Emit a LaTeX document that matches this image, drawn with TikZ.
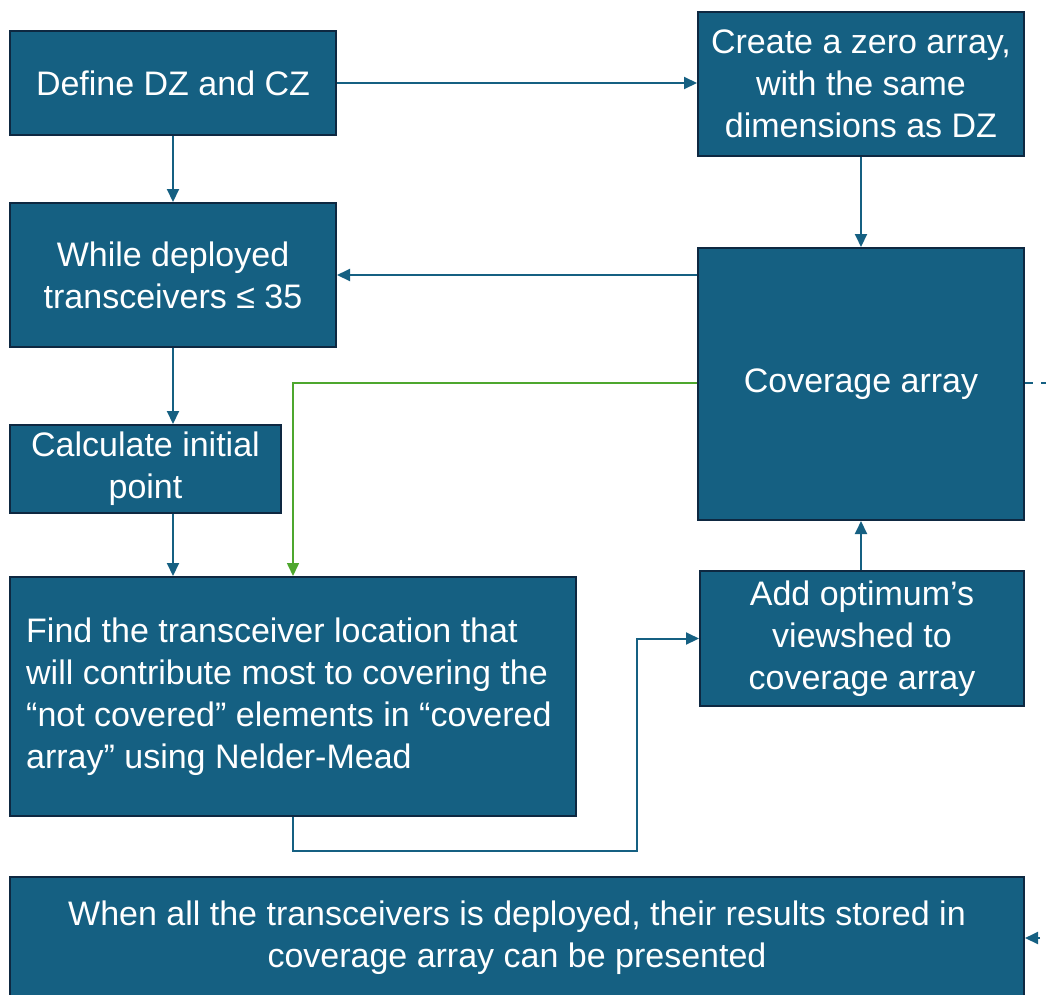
\documentclass[tikz,border=0pt]{standalone}
\usepackage{fontspec}
\setmainfont{Liberation Sans}
\usetikzlibrary{arrows.meta,positioning,calc}
\definecolor{boxfill}{HTML}{156082}
\definecolor{boxline}{HTML}{0E2841}
\definecolor{grn}{HTML}{4EA72E}
\tikzset{
  x=1pt,y=-1pt,
  box/.style={draw=boxline,line width=2pt,fill=boxfill,text=white,inner sep=0pt,
    font=\fontsize{34}{42}\selectfont,align=center},
  boxtext/.style={text=white,inner sep=0pt,font=\fontsize{34}{42}\selectfont,align=left},
  conn/.style={draw=boxfill,line width=2pt,-{Triangle[length=13pt,width=12pt]}},
  gconn/.style={draw=grn,line width=1.6pt,-{Triangle[length=13pt,width=12pt]}},
}
\begin{document}
\begin{tikzpicture}
\useasboundingbox (0,0) rectangle (1046,994);
\node[box,minimum width=326pt,minimum height=104pt] (define) at (173,83) {Define DZ and CZ};
\node[box,minimum width=326pt,minimum height=144pt] (create) at (861,84) {Create a zero array,\\with the same\\dimensions as DZ};
\node[box,minimum width=326pt,minimum height=144pt] (while) at (173,275) {While deployed\\transceivers ≤ 35};
\node[box,minimum width=326pt,minimum height=272pt] (cov) at (861,384) {Coverage array};
\node[box,minimum width=271pt,minimum height=88pt] (calc) at (145.5,469) {Calculate initial\\point};
\node[box,minimum width=566pt,minimum height=239pt] (find) at (293,696.5) {};
\node[boxtext,anchor=west] (findtext) at ([xshift=17pt]find.west) {Find the transceiver location that\\will contribute most to covering the\\“not covered” elements in “covered\\array” using Nelder-Mead};
\node[box,minimum width=324pt,minimum height=135pt] (add) at (862,638.5) {Add optimum’s\\viewshed to\\coverage array};
\node[box,minimum width=1014pt,minimum height=122pt] (when) at (517,938) {When all the transceivers is deployed, their results stored in\\coverage array can be presented};
\draw[conn] (define.east) -- (create.west |- define.east);
\draw[conn] (define.south) -- (while.north);
\draw[conn] (create.south) -- (create.south |- cov.north);
\draw[conn] (cov.west |- while.east) -- (while.east);
\draw[conn] (while.south) -- (while.south |- calc.north);
\draw[conn] (while.south |- calc.south) -- (while.south |- find.north);
\coordinate (g1) at (293,383);
\draw[gconn] (cov.west |- g1) -- (g1) -- (g1 |- find.north);
\coordinate (b1) at (637,851);
\draw[conn] (find.south) -- (find.south |- b1) -- (b1) -- (b1 |- add.west) -- (add.west);
\draw[conn] (add.north -| cov.south) -- (cov.south);
\coordinate (d1) at (1075,383);
\draw[conn,dashed,dash pattern=on 8pt off 8pt] (cov.east |- d1) -- (d1) -- (d1 |- when.east) -- (when.east);
\end{tikzpicture}
\end{document}
